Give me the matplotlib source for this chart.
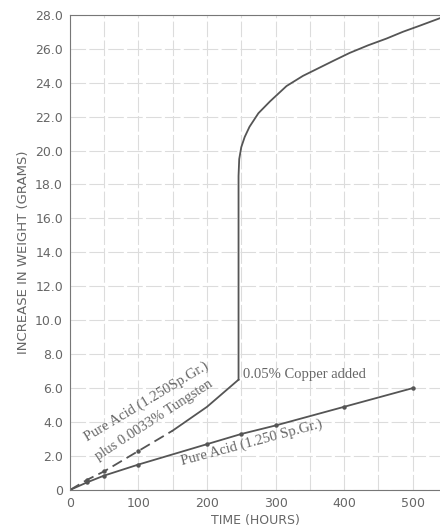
import numpy as np
import matplotlib.pyplot as plt

# Pure acid (1.250 Sp.Gr.)
pure_hours = [0, 25, 50, 100, 200, 250, 300, 400, 500]
pure_gain = [0, 0.45, 0.85, 1.5, 2.7, 3.3, 3.8, 4.9, 6.0]

# Pure acid plus 0.0033% tungsten, before copper added
tung_hours = [0, 25, 50, 100, 150, 200, 246]
tung_gain = [0, 0.6, 1.1, 2.3, 3.5, 4.9, 6.5]

# after 0.05% copper added
cu_hours = [246, 246, 247, 250, 255, 262, 275, 292, 316, 340, 360, 385,
            408, 435, 462, 486, 510, 540]
cu_gain = [6.5, 18.5, 19.5, 20.2, 20.8, 21.4, 22.2, 22.9, 23.8, 24.4, 24.8, 25.3,
           25.75, 26.2, 26.6, 27.0, 27.35, 27.8]

y_ticks = np.arange(0, 28.1, 2.0)
y_labels = ['0'] + ['%.1f' % v for v in y_ticks[1:]]

line_col = '#555555'
text_col = '#666666'

fig = plt.figure(figsize=(4.4, 5.28), dpi=100)
ax = fig.add_axes([0.159, 0.072, 0.841, 0.9])

ax.plot(pure_hours, pure_gain, color=line_col, lw=1.3, marker='o', ms=2.2)
ax.plot(tung_hours[:5], tung_gain[:5], color=line_col, lw=1.3, ls=(0, (6, 3)),
        marker='o', ms=2.2, markevery=[1, 2, 3])
ax.plot(tung_hours[4:], tung_gain[4:], color=line_col, lw=1.3)
ax.plot(cu_hours, cu_gain, color=line_col, lw=1.3)

ax.set_xlim(0, 540)
ax.set_ylim(0, 28)
ax.set_xticks(range(0, 501, 100))
ax.set_xticks(range(0, 541, 50), minor=True)
ax.set_yticks(y_ticks)
ax.set_yticklabels(y_labels)
ax.grid(True, which='both', color='#dcdcdc', lw=0.8, ls=(0, (14, 3)))
ax.tick_params(which='both', length=0, labelsize=9, colors=text_col, pad=5)
for s in ['left', 'bottom', 'top']:
    ax.spines[s].set_color('#777777')
ax.spines['right'].set_visible(False)

ax.set_xlabel('TIME (HOURS)', fontsize=9, color=text_col, labelpad=3)
ax.set_ylabel('INCREASE IN WEIGHT (GRAMS)', fontsize=9.5, color=text_col, labelpad=4)

serif = 'Liberation Serif'
ax.text(28, 2.7, 'Pure Acid (1.250Sp.Gr.)', rotation=31, fontsize=10.5, family=serif,
        color=text_col, ha='left', va='bottom', rotation_mode='anchor')
ax.text(44, 1.6, 'plus 0.0033% Tungsten', rotation=33, fontsize=10.5, family=serif,
        color=text_col, ha='left', va='bottom', rotation_mode='anchor')
ax.text(252, 6.8, '0.05% Copper added', fontsize=10.5, family=serif,
        color=text_col, ha='left', va='center')
ax.text(165, 1.3, 'Pure Acid (1.250 Sp.Gr.)', rotation=15, fontsize=10.5, family=serif,
        color=text_col, ha='left', va='bottom', rotation_mode='anchor')

fig.savefig('out.png', dpi=100)
